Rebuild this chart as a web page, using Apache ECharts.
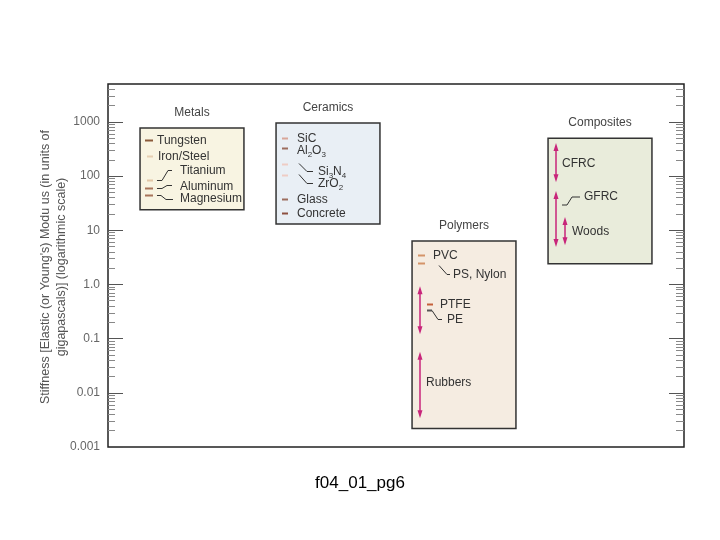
<!DOCTYPE html>
<html>
<head>
<meta charset="utf-8">
<script src="https://cdn.jsdelivr.net/npm/echarts@6/dist/echarts.min.js"></script>
<style>
html,body{margin:0;padding:0;background:#fff}
#main{width:720px;height:540px}
</style>
</head>
<body>
<div id="main"></div>
<script>
// material classes and the stiffness span of each panel (GPa)
var groups = ['Metals', 'Ceramics', 'Polymers', 'Composites'];
var groupLow = [24, 13, 0.0022, 2.4];
var groupHigh = [770, 950, 6.3, 500];

// single values (short dashes)
var metalNames = ['Tungsten', 'Iron/Steel', 'Titanium', 'Aluminum', 'Magnesium'];
var metalValues = [460, 234, 84, 60, 45];
var ceramicNames = ['SiC', 'Al{s|2}O{s|3}', 'Si{s|3}N{s|4}', 'ZrO{s|2}', 'Glass', 'Concrete'];
var ceramicValues = [496, 324, 164, 104, 38, 20.5];
var polymerNames = ['PVC', 'PS, Nylon', 'PTFE', 'PE'];
var polymerValues = [3.5, 2.45, 0.43, 0.34];

// ranges (double arrows)
var rangeNames = ['', 'Rubbers', 'CFRC', 'GFRC', 'Woods'];
var rangeGroup = [2, 2, 3, 3, 3];
var rangeLow = [0.12, 0.0034, 77, 4.9, 5.3];
var rangeHigh = [0.93, 0.057, 406, 53, 17.5];

// axis
var yTicks = [0.001, 0.01, 0.1, 1, 10, 100, 1000];
var yTickLabels = ['0.001', '0.01', '0.1', '1.0', '10', '100', '1000'];
var minorSteps = [2, 3, 4, 5, 6, 7, 8, 9];
var yMin = 0.001, yMax = 5000;

var FONT = '"Liberation Sans", Arial, sans-serif';
var groupFill = ['#f8f4e2', '#e9eff5', '#f5ece1', '#e9ecdb'];
var arrowColor = '#c8257a';

// layout of the marks inside the panels (px from panel centre)
var markStyle = {
    'Tungsten':   {dash: [-47, -39], color: '#8b5a3a', tx: -35},
    'Iron/Steel': {dash: [-45, -39], color: '#e6cfb2', tx: -34},
    'Titanium':   {dash: [-45, -39], color: '#e2c6a6', tx: -12, dy: -10, link: [[4, 0], [9, 0], [15, -10], [19, -10]]},
    'Aluminum':   {dash: [-47, -39], color: '#a8745a', tx: -12, dy: -2, link: [[4, 0], [9, 0], [14, -3], [19, -3]]},
    'Magnesium':  {dash: [-47, -39], color: '#a8745a', tx: -12, dy: 3, link: [[4, 0], [8, 0], [13, 4], [20, 4]]},
    'SiC':        {dash: [-46, -40], color: '#d9a79a', tx: -31},
    'Al{s|2}O{s|3}': {dash: [-46, -40], color: '#9c6d5e', tx: -31, dy: 2},
    'Si{s|3}N{s|4}': {dash: [-46, -40], color: '#eeccc4', tx: -10, dy: 7, link: [[11, -1], [19, 7], [25, 7]]},
    'ZrO{s|2}':   {dash: [-46, -40], color: '#eeccc4', tx: -10, dy: 8, link: [[11, -1], [19, 8], [25, 8]]},
    'Glass':      {dash: [-46, -40], color: '#9c6d5e', tx: -31},
    'Concrete':   {dash: [-46, -40], color: '#8d5040', tx: -31},
    'PVC':        {dash: [-46, -39], color: '#d49468', tx: -31},
    'PS, Nylon':  {dash: [-46, -39], color: '#d49468', tx: -11, dy: 11, link: [[14, 2], [22, 11], [25, 11]]},
    'PTFE':       {dash: [-37, -31], color: '#c4603a', tx: -24},
    'PE':         {dash: [-37, -32], color: '#555555', tx: -17, dy: 9, link: [[0, 0], [6, 9], [10, 9]]}
};
var rangeStyle = [
    {dx: -44},
    {dx: -44, tx: -38, dy: 31},
    {dx: -44, tx: -38, dy: 21},
    {dx: -44, tx: -16, dy: 6, link: [[6, 8], [11, 8], [16, 0], [24, 0]]},
    {dx: -35, tx: -28, dy: 15}
];

var marks = [];
function addMarks(g, names, values) {
    names.forEach(function (n, i) { marks.push({g: g, name: n, v: values[i]}); });
}
addMarks(0, metalNames, metalValues);
addMarks(1, ceramicNames, ceramicValues);
addMarks(2, polymerNames, polymerValues);

var minorTicks = [];
yTicks.forEach(function (t) {
    minorSteps.forEach(function (k) { if (t * k < yMax) minorTicks.push(t * k); });
});

function label(x, y, text, extra) {
    var st = {
        text: text, x: x, y: y, fill: '#333', font: '12px ' + FONT,
        align: 'left', verticalAlign: 'middle', textAlign: 'left', textVerticalAlign: 'middle',
        lineHeight: 16,
        rich: {s: {fontSize: 8, lineHeight: 8, verticalAlign: 'bottom', fill: '#333', fontFamily: FONT}}
    };
    for (var k in extra) st[k] = extra[k];
    return {type: 'text', style: st};
}
function link(x0, y0, pts) {
    return {
        type: 'polyline',
        shape: {points: pts.map(function (p) { return [x0 + p[0], y0 + p[1]]; })},
        style: {stroke: '#333', lineWidth: 1, fill: null}
    };
}

function yAxisOf(pos, ticks, len, color, withLabels) {
    return {
        type: 'log', logBase: 10, min: yMin, max: yMax, position: pos,
        axisLine: {show: false, onZero: false}, splitLine: {show: false},
        axisTick: {show: true, inside: true, length: len, customValues: ticks, lineStyle: {color: color, width: 1}},
        axisLabel: withLabels ? {
            show: true, customValues: yTicks, margin: 8, color: '#666', fontSize: 12, fontFamily: FONT,
            formatter: function (v) {
                for (var i = 0; i < yTicks.length; i++) {
                    if (Math.abs(Math.log10(yTicks[i]) - Math.log10(v)) < 1e-6) return yTickLabels[i];
                }
                return '';
            }
        } : {show: false}
    };
}

var chart = echarts.init(document.getElementById('main'));
var option = {
    animation: false,
    grid: {left: 108, right: 36, top: 84, bottom: 93, show: true, borderColor: '#222', borderWidth: 1.5, backgroundColor: 'transparent'},
    xAxis: {type: 'value', min: -0.6176, max: 3.6176, show: false},
    yAxis: [
        yAxisOf('left', yTicks, 15, '#555', true),
        yAxisOf('left', minorTicks, 7, '#888', false),
        yAxisOf('right', yTicks, 15, '#555', false),
        yAxisOf('right', minorTicks, 8, '#888', false)
    ],
    graphic: [
        {type: 'text', x: 54, y: 267, rotation: Math.PI / 2,
         style: {text: "Stiffness [Elastic (or Young's) Modu us (in units of\ngigapascals)] (logarithmic scale)",
                 fill: '#555', font: '12.5px ' + FONT, lineHeight: 16,
                 align: 'center', verticalAlign: 'middle', textAlign: 'center', textVerticalAlign: 'middle'}},
        {type: 'text', x: 360, y: 483,
         style: {text: 'f04_01_pg6', fill: '#000', font: '17px ' + FONT,
                 align: 'center', verticalAlign: 'middle', textAlign: 'center', textVerticalAlign: 'middle'}}
    ],
    series: [
        {
            type: 'custom', name: 'panels', z: 1,
            data: groups.map(function (g, i) { return [i, groupLow[i], groupHigh[i]]; }),
            renderItem: function (params, api) {
                var i = params.dataIndex;
                var top = api.coord([api.value(0), api.value(2)]);
                var bot = api.coord([api.value(0), api.value(1)]);
                var hw = api.size([0.382, 0])[0];
                return {type: 'group', children: [
                    {type: 'rect', shape: {x: top[0] - hw, y: top[1], width: hw * 2, height: bot[1] - top[1]},
                     style: {fill: groupFill[i], stroke: '#333', lineWidth: 1.5}},
                    {type: 'text', style: {text: groups[i], x: top[0], y: top[1] - 15, fill: '#444', font: '12px ' + FONT,
                     align: 'center', verticalAlign: 'middle', textAlign: 'center', textVerticalAlign: 'middle'}}
                ]};
            }
        },
        {
            type: 'custom', name: 'values', z: 2,
            data: marks.map(function (m) { return [m.g, m.v]; }),
            renderItem: function (params, api) {
                var m = marks[params.dataIndex];
                var s = markStyle[m.name];
                var p = api.coord([api.value(0), api.value(1)]);
                var y = Math.round(p[1]) + 0.5;
                var kids = [
                    {type: 'line', shape: {x1: p[0] + s.dash[0], y1: y, x2: p[0] + s.dash[1], y2: y},
                     style: {stroke: s.color, lineWidth: 2}}
                ];
                if (s.link) kids.push(link(p[0] + s.dash[1], y, s.link));
                kids.push(label(p[0] + s.tx, y + (s.dy || 0), m.name));
                return {type: 'group', children: kids};
            }
        },
        {
            type: 'custom', name: 'ranges', z: 3,
            data: rangeNames.map(function (n, i) { return [rangeGroup[i], rangeLow[i], rangeHigh[i]]; }),
            renderItem: function (params, api) {
                var i = params.dataIndex;
                var s = rangeStyle[i];
                var top = api.coord([api.value(0), api.value(2)]);
                var bot = api.coord([api.value(0), api.value(1)]);
                var x = top[0] + s.dx;
                var kids = [
                    {type: 'line', shape: {x1: x, y1: top[1] + 3, x2: x, y2: bot[1] - 3},
                     style: {stroke: arrowColor, lineWidth: 1.5}},
                    {type: 'polygon', shape: {points: [[x, top[1]], [x - 2.5, top[1] + 8], [x + 2.5, top[1] + 8]]},
                     style: {fill: arrowColor}},
                    {type: 'polygon', shape: {points: [[x, bot[1]], [x - 2.5, bot[1] - 8], [x + 2.5, bot[1] - 8]]},
                     style: {fill: arrowColor}}
                ];
                if (rangeNames[i]) {
                    var ly = top[1] + s.dy;
                    if (s.link) kids.push(link(x, ly, s.link));
                    kids.push(label(top[0] + s.tx, ly, rangeNames[i]));
                }
                return {type: 'group', children: kids};
            }
        }
    ]
};
chart.setOption(option);
</script>
</body>
</html>
